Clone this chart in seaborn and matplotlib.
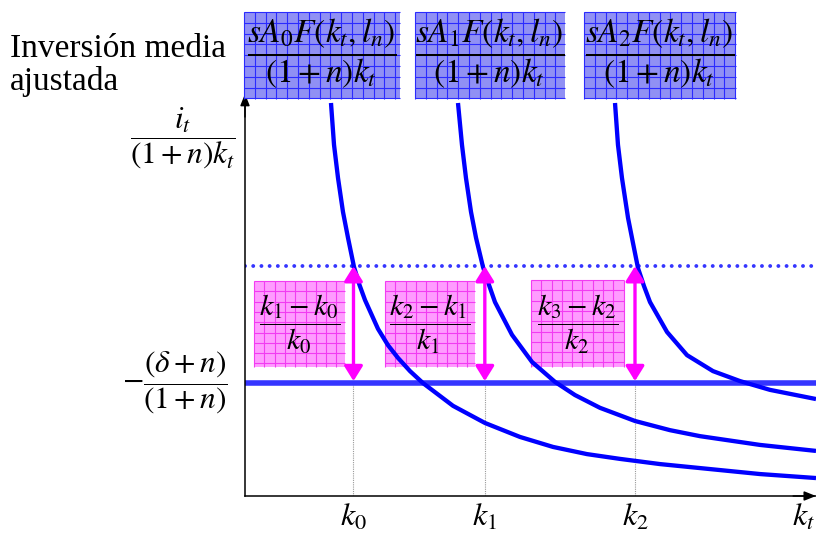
import matplotlib
matplotlib.use("Agg")
import matplotlib.pyplot as plt
import matplotlib.transforms as mtransforms
from matplotlib.patches import Rectangle, FancyArrowPatch
from matplotlib.collections import LineCollection
import pandas as pd
import seaborn as sns

# Capital per worker (horizontal) and adjusted average investment for three technology levels
k_curve0 = [1.506, 1.559, 1.629, 1.716, 1.804, 1.909, 2.005, 2.102, 2.329, 2.504, 2.680,
            2.890, 3.117, 3.643, 4.203, 4.816, 5.394, 5.989, 6.567, 7.268, 7.968, 9.019, 10.0]
i_curve0 = [9.85, 8.80, 7.97, 7.12, 6.47, 5.74, 5.29, 4.91, 4.19, 3.78, 3.46,
            3.13, 2.83, 2.26, 1.83, 1.48, 1.23, 1.05, 0.93, 0.80, 0.70, 0.55, 0.45]
k_curve1 = [3.730, 3.800, 3.870, 3.958, 4.046, 4.168, 4.273, 4.378, 4.676, 5.026, 5.429,
            5.779, 6.217, 6.830, 7.443, 7.968, 9.019, 10.0]
i_curve1 = [9.85, 8.80, 7.97, 7.12, 6.47, 5.74, 5.29, 4.86, 4.04, 3.36, 2.86,
            2.53, 2.21, 1.88, 1.65, 1.50, 1.28, 1.13]
k_curve2 = [6.480, 6.532, 6.602, 6.708, 6.795, 6.883, 6.988, 7.093, 7.391, 7.741, 8.196,
            8.669, 9.194, 10.0]
i_curve2 = [9.85, 8.80, 7.97, 6.97, 6.34, 5.71, 5.26, 4.86, 4.11, 3.53, 3.13,
            2.88, 2.66, 2.43]

k_steps = [1.90, 4.20, 6.83]
k_tick_labels = [r"$k_0$", r"$k_1$", r"$k_2$"]
growth_level = 5.76        # dotted reference line
depreciation_level = 2.83  # -(delta+n)/(1+n)

curve_labels = [r"$\dfrac{sA_0F(k_t,l_n)}{(1+n)k_t}$",
                r"$\dfrac{sA_1F(k_t,l_n)}{(1+n)k_t}$",
                r"$\dfrac{sA_2F(k_t,l_n)}{(1+n)k_t}$"]
growth_labels = [r"$\dfrac{k_1-k_0}{k_0}$",
                 r"$\dfrac{k_2-k_1}{k_1}$",
                 r"$\dfrac{k_3-k_2}{k_2}$"]

curves = pd.concat([
    pd.DataFrame({"k": k_curve0, "i": i_curve0, "A": "A0"}),
    pd.DataFrame({"k": k_curve1, "i": i_curve1, "A": "A1"}),
    pd.DataFrame({"k": k_curve2, "i": i_curve2, "A": "A2"}),
])

sns.set_theme(style="white")
plt.rcParams["font.family"] = ["Liberation Serif", "DejaVu Serif"]
plt.rcParams["mathtext.fontset"] = "stix"
plt.rcParams["text.color"] = "black"

W, H = 816, 537
fig = plt.figure(figsize=(W / 100, H / 100), dpi=100)
fig.patch.set_facecolor("white")
ax = fig.add_axes([245 / W, 41 / H, 571 / W, 399 / H])
ax.set_facecolor("white")
ax.set_xlim(0, 10)
ax.set_ylim(0, 10)

# pixel-space transform (origin top-left) for annotation boxes and captions
px = mtransforms.Affine2D().scale(1 / W, -1 / H).translate(0, 1) + fig.transFigure

blue_curve = "#0000ff"
line_blue = "#3535ff"
magenta = "#ff00ff"

sns.lineplot(data=curves, x="k", y="i", units="A", estimator=None, sort=False,
             color=blue_curve, lw=3.1, ax=ax, zorder=3, legend=False,
             solid_joinstyle="round", solid_capstyle="butt")

ax.axhline(depreciation_level, color=line_blue, lw=4.0, zorder=2)
ax.axhline(growth_level, color=line_blue, lw=2.8, zorder=2,
           linestyle=(0, (0.01, 2.1)), dash_capstyle="round")
ax.vlines(k_steps, 0, depreciation_level, colors="#9a9a9a", lw=0.8,
          linestyles=(0, (1, 1)), zorder=1)

for k in k_steps:
    arr = FancyArrowPatch((k, depreciation_level + 0.05), (k, growth_level),
                          arrowstyle="<|-|>,head_length=0.45,head_width=0.28",
                          mutation_scale=20, color=magenta, lw=2.4,
                          shrinkA=0, shrinkB=0, zorder=4)
    ax.add_patch(arr)

# axes with arrowheads
for side in ["top", "right"]:
    ax.spines[side].set_visible(False)
for side in ["left", "bottom"]:
    ax.spines[side].set_color("black")
    ax.spines[side].set_linewidth(1.1)
ax.annotate("", xy=(0, 10.08), xytext=(0, 9.5), annotation_clip=False,
            arrowprops=dict(arrowstyle="-|>,head_length=0.5,head_width=0.2",
                            mutation_scale=14, color="black", lw=1.1,
                            shrinkA=0, shrinkB=0))
ax.annotate("", xy=(10.0, 0), xytext=(9.6, 0), annotation_clip=False,
            arrowprops=dict(arrowstyle="-|>,head_length=0.5,head_width=0.2",
                            mutation_scale=14, color="black", lw=1.1,
                            shrinkA=0, shrinkB=0))

ax.set_xticks(k_steps)
ax.set_xticklabels(k_tick_labels, fontsize=23, color="black")
ax.set_yticks([])
ax.tick_params(axis="x", length=0, pad=5)
ax.set_xlabel("")
ax.set_ylabel("")
ax.text(803, 518, r"$k_t$", transform=px, fontsize=23, ha="center", va="center",
        clip_on=False)


def grid_box(x0, y0, x1, y1, face, line, step, z):
    ax.add_patch(Rectangle((x0, y0), x1 - x0, y1 - y0, transform=px, facecolor=face,
                           edgecolor="none", clip_on=False, zorder=z))
    segs = []
    x = x0
    while x <= x1 + 0.1:
        segs.append([(x, y0), (x, y1)])
        x += step
    y = y0
    while y <= y1 + 0.1:
        segs.append([(x0, y), (x1, y)])
        y += step
    ax.add_collection(LineCollection(segs, colors=line, linewidths=0.8,
                                     transform=px, clip_on=False, zorder=z))


blue_boxes = [(244, 12, 400, 99), (415, 12, 565, 99), (584, 12, 736, 99)]
for (x0, y0, x1, y1), lab in zip(blue_boxes, curve_labels):
    grid_box(x0, y0, x1, y1, "#9090f4", "#2b2bff", 10.8, 5)
    ax.text((x0 + x1) / 2, 53, lab, transform=px, fontsize=24, ha="center",
            va="center", clip_on=False, zorder=6)

pink_boxes = [(254, 281, 345, 367), (385, 281, 475, 367), (531, 280, 624, 367)]
for (x0, y0, x1, y1), lab in zip(pink_boxes, growth_labels):
    grid_box(x0, y0, x1, y1, "#ff9cff", "#f23cf2", 10.3, 1)
    ax.text((x0 + x1) / 2, 324, lab, transform=px, fontsize=21.5, ha="center",
            va="center", clip_on=False, zorder=2)

# vertical axis captions
ax.text(10, 57, "Inversión media", transform=px, fontsize=24, ha="left",
        va="baseline", clip_on=False)
ax.text(10, 90, "ajustada", transform=px, fontsize=24, ha="left",
        va="baseline", clip_on=False)
ax.text(183, 138, r"$\dfrac{i_t}{(1+n)k_t}$", transform=px, fontsize=22.5,
        ha="center", va="center", clip_on=False)
ax.text(228, 383, r"$-\dfrac{(\delta+n)}{(1+n)}$", transform=px, fontsize=22.5,
        ha="right", va="center", clip_on=False)

fig.savefig("out.png", dpi=100)
